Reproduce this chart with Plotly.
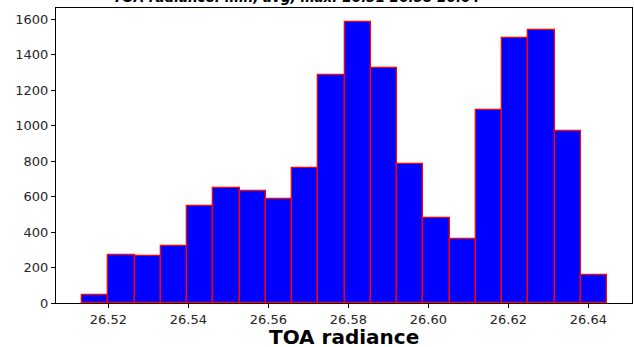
import numpy as np
import plotly.graph_objects as go

# Histogram data
bin_start = 26.5134
bin_end = 26.6447
counts = [43, 270, 265, 319, 546, 646, 631, 584, 758, 1285,
          1581, 1322, 785, 477, 361, 1089, 1495, 1540, 971, 159]
tick_vals = [26.52, 26.54, 26.56, 26.58, 26.60, 26.62, 26.64]
tick_text = ["26.52", "26.54", "26.56", "26.58", "26.60", "26.62", "26.64"]
y_ticks = [0, 200, 400, 600, 800, 1000, 1200, 1400, 1600]
title_text = "TOA radiance: min, avg, max: 26.51 26.58 26.64"
x_label = "TOA radiance"

edges = np.linspace(bin_start, bin_end, len(counts) + 1)
centers = (edges[:-1] + edges[1:]) / 2
width = edges[1] - edges[0]

fig = go.Figure(go.Bar(
    x=centers, y=counts, width=width,
    marker=dict(color="#0000ff", line=dict(color="#ff0000", width=1.3)),
))

font = "DejaVu Sans"
fig.update_layout(
    width=634, height=347,
    margin=dict(l=56, r=2, t=8, b=44, autoexpand=False),
    plot_bgcolor="white", paper_bgcolor="white",
    showlegend=False, bargap=0,
    font=dict(family=font, size=13, color="#262626"),
)
fig.update_xaxes(
    range=[26.5069, 26.6509],
    tickvals=tick_vals, ticktext=tick_text,
    ticks="outside", ticklen=4, tickcolor="black",
    showline=True, linecolor="black", linewidth=1, mirror=True,
    showgrid=False, zeroline=False, automargin=False,
)
fig.update_yaxes(
    range=[0, 1662],
    tickvals=y_ticks,
    ticks="outside", ticklen=4, tickcolor="black",
    showline=True, linecolor="black", linewidth=1, mirror=True,
    showgrid=False, zeroline=False, automargin=False,
)
fig.add_annotation(
    text="<b>" + x_label + "</b>",
    xref="paper", yref="paper", x=0.5, y=0.0, yshift=-20,
    xanchor="center", yanchor="top", showarrow=False,
    font=dict(size=20, color="black", family=font),
)
fig.add_annotation(
    text="<b><i>" + title_text + "</i></b>",
    xref="paper", yref="paper", x=0.417, y=1.0, yshift=1,
    xanchor="center", yanchor="bottom", showarrow=False,
    font=dict(size=13.5, color="black", family=font),
)
fig.write_html("out.html")
